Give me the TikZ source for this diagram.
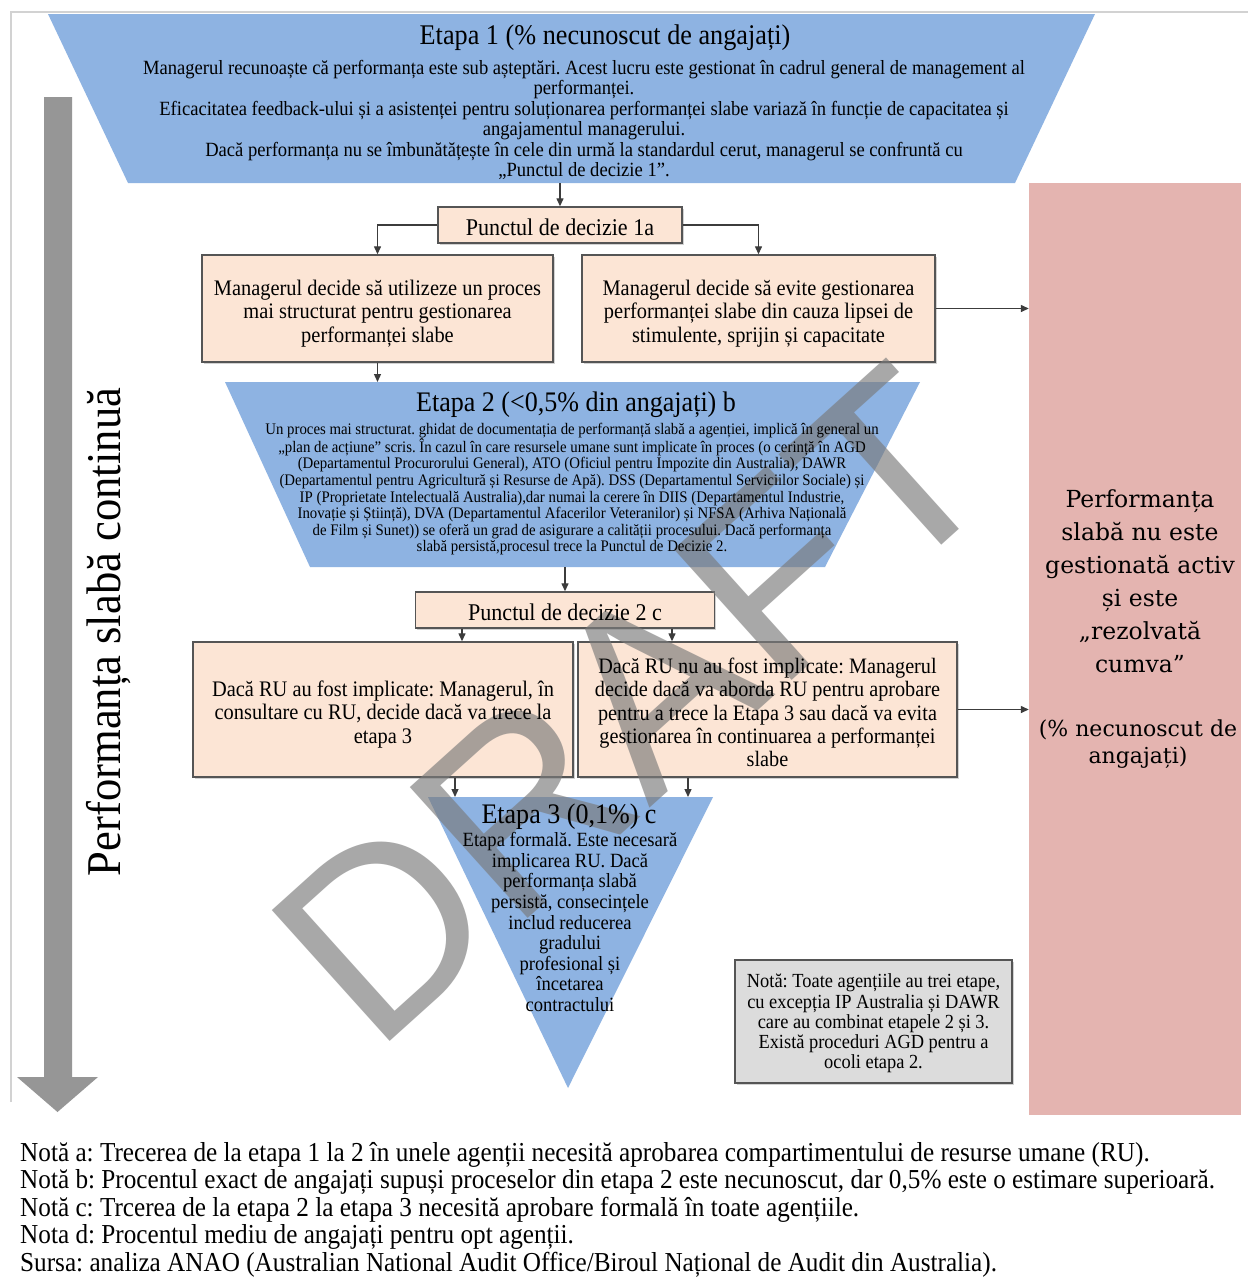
\documentclass[tikz,border=0pt]{standalone}
\usepackage{fontspec}
\setmainfont{Liberation Serif}[FakeStretch=0.92]
\newfontfamily\pinkfont{DejaVu Serif}
\newfontfamily\wmfont{Liberation Sans}
\usetikzlibrary{arrows.meta,shadows}
\definecolor{eblue}{RGB}{142,179,226}
\definecolor{peach}{RGB}{252,229,213}
\definecolor{pinkc}{RGB}{228,180,176}
\definecolor{arrgray}{RGB}{150,150,150}
\definecolor{notegray}{RGB}{220,220,220}
\definecolor{edgec}{RGB}{85,85,85}
\definecolor{connc}{RGB}{60,60,60}
\definecolor{wmc}{RGB}{122,122,122}
\frenchspacing
\begin{document}
\frenchspacing
\begin{tikzpicture}[x=1pt,y=-1pt,
  peachbox/.style={draw=edgec, line width=1.4pt, fill=peach, inner sep=0pt,
     drop shadow={shadow xshift=1.5pt, shadow yshift=-1.5pt, opacity=0.35}},
  boxtext/.style={align=center, inner sep=0pt},
  conn/.style={draw=connc, line width=1.3pt, -{Triangle[length=8pt,width=7pt]}},
  boxfont/.style={font=\fontsize{22.2}{23.5}\selectfont}
]
\useasboundingbox (0,0) rectangle (1248,1285);
\fill[white] (0,0) rectangle (1248,1285);
% frame
\draw[gray!35, line width=1.5pt] (11,1102) -- (11,12) -- (1248,12);

% ---------- shapes ----------
% Etapa 1
\fill[eblue] (48,14) -- (1095,14) -- (1015,183) -- (128,183) -- cycle;
\coordinate (e1bot) at (560,183);
% pink box
\node[fill=pinkc, minimum width=212pt, minimum height=932pt, inner sep=0pt] (pink) at (1135,649) {};
% left arrow
\fill[arrgray] (44,97) -- (72,97) -- (72,1077) -- (98,1077) -- (57.5,1112) -- (17,1077) -- (44,1077) -- cycle;
% boxes
\node[peachbox, minimum width=244pt, minimum height=36pt] (dp1) at (560,225) {};
\node[peachbox, minimum width=351pt, minimum height=107pt] (l1) at (377.5,308.5) {};
\node[peachbox, minimum width=353pt, minimum height=107pt] (r1) at (758.5,308.5) {};
% Etapa 2
\fill[eblue] (225,382) -- (920,382) -- (825,567) -- (310,567) -- cycle;
\coordinate (e2top) at (377.5,382);
\coordinate (e2bot) at (565,567);
\node[peachbox, minimum width=299pt, minimum height=36pt] (dp2) at (565,610) {};
\node[peachbox, minimum width=380pt, minimum height=135pt] (l2) at (383,709.5) {};
\node[peachbox, minimum width=379pt, minimum height=135pt] (r2) at (767.5,709.5) {};
% Etapa 3
\fill[eblue] (428,797) -- (713,797) -- (568,1088) -- cycle;
\coordinate (e3top) at (568,797);
% Note box
\node[draw=edgec, line width=1.4pt, fill=notegray, minimum width=277pt, minimum height=123pt, inner sep=0pt,
      drop shadow={shadow xshift=1.5pt, shadow yshift=-1.5pt, opacity=0.35}] (note) at (873.5,1021.5) {};

% ---------- watermark ----------
\node[rotate=42, font=\wmfont\fontsize{256}{256}\selectfont, text=wmc, text opacity=0.65] (draft) at (633,705) {DRAFT};

% ---------- texts ----------
\node[font=\fontsize{28.5}{30}\selectfont, inner sep=0pt] (e1title) at (605,38) {Etapa 1 (\% necunoscut de angajați)};
\node[font=\fontsize{20.2}{20.4}\selectfont, boxtext] (e1body) at (584,120)
 {Managerul recunoaște că performanța este sub așteptări. Acest lucru este gestionat în cadrul general de management al\\
  performanței.\\
  Eficacitatea feedback-ului și a asistenței pentru soluționarea performanței slabe variază în funcție de capacitatea și\\
  angajamentul managerului.\\
  Dacă performanța nu se îmbunătățește în cele din urmă la standardul cerut, managerul se confruntă cu\\
  „Punctul de decizie 1”.};

\node[font=\pinkfont\fontsize{23.5}{33}\selectfont, boxtext] (pinktext) at (1140,581)
 {Performanța\\ slabă nu este\\ gestionată activ\\ și este\\ „rezolvată\\ cumva”};
\node[font=\pinkfont\fontsize{22}{27}\selectfont, boxtext] (pinkpct) at (1138,744)
 {(\% necunoscut de\\ angajați)};

\node[rotate=90, font=\fontsize{48.5}{50}\selectfont, inner sep=0pt] (leftlabel) at (109,632) {Performanța slabă continuă};

\node[font=\fontsize{24}{25}\selectfont, boxtext] (dp1t) at ([yshift=-2pt]dp1.center) {Punctul de decizie 1a};
\node[boxfont, boxtext] (l1t) at ([yshift=-5pt]l1.center)
 {Managerul decide să utilizeze un proces\\ mai structurat pentru gestionarea\\ performanței slabe};
\node[boxfont, boxtext] (r1t) at ([yshift=-5pt]r1.center)
 {Managerul decide să evite gestionarea\\ performanței slabe din cauza lipsei de\\ stimulente, sprijin și capacitate};

\node[font=\fontsize{28.3}{30}\selectfont, inner sep=0pt] (e2title) at (576,405) {Etapa 2 (<0,5\% din angajați) b};
\node[font=\fontsize{16.1}{16.6}\selectfont, boxtext] (e2body) at (572,489)
 {Un proces mai structurat. ghidat de documentația de performanță slabă a agenției, implică în general un\\
  „plan de acțiune” scris. În cazul în care resursele umane sunt implicate în proces (o cerință în AGD\\
  (Departamentul Procurorului General), ATO (Oficiul pentru Impozite din Australia), DAWR\\
  (Departamentul pentru Agricultură și Resurse de Apă). DSS (Departamentul Serviciilor Sociale) și\\
  IP (Proprietate Intelectuală Australia),dar numai la cerere în DIIS (Departamentul Industrie,\\
  Inovație și Știință), DVA (Departamentul Afacerilor Veteranilor) și NFSA (Arhiva Națională\\
  de Film și Sunet)) se oferă un grad de asigurare a calității procesului. Dacă performanța\\
  slabă persistă,procesul trece la Punctul de Decizie 2.};

\node[font=\fontsize{24}{25}\selectfont, boxtext] (dp2t) at ([yshift=-2pt]dp2.center) {Punctul de decizie 2 c};
\node[boxfont, boxtext] (l2t) at ([yshift=-5pt]l2.center)
 {Dacă RU au fost implicate: Managerul, în\\ consultare cu RU, decide dacă va trece la\\ etapa 3};
\node[font=\fontsize{22}{23.2}\selectfont, boxtext] (r2t) at ([yshift=-3pt]r2.center)
 {Dacă RU nu au fost implicate: Managerul\\ decide dacă va aborda RU pentru aprobare\\ pentru a trece la Etapa 3 sau dacă va evita\\ gestionarea în continuarea a performanței\\ slabe};

\node[font=\fontsize{28.3}{30}\selectfont, inner sep=0pt] (e3title) at (569,817) {Etapa 3 (0,1\%) c};
\node[font=\fontsize{20.2}{20.6}\selectfont, boxtext] (e3body) at (570,922)
 {Etapa formală. Este necesară\\ implicarea RU. Dacă\\ performanța slabă\\ persistă, consecințele\\ includ reducerea\\ gradului\\ profesional și\\ încetarea\\ contractului};

\node[font=\fontsize{20}{20.3}\selectfont, boxtext] (notet) at ([yshift=-2pt]note.center)
 {Notă: Toate agențiile au trei etape,\\ cu excepția IP Australia și DAWR\\ care au combinat etapele 2 și 3.\\ Există proceduri AGD pentru a\\ ocoli etapa 2.};

% ---------- connectors ----------
\draw[conn] (e1bot) -- (dp1.north);
\draw[conn] (dp1.west) -| (l1.north);
\draw[conn] (dp1.east) -| (r1.north);
\draw[conn] (r1.east) -- (r1.east -| pink.west);
\draw[conn] (l1.south) -- (e2top);
\draw[conn] (e2bot) -- (dp2.north);
\draw[conn] ([xshift=-103pt]dp2.south) -- ([xshift=-103pt]dp2.south |- l2.north);
\draw[conn] ([xshift=107pt]dp2.south) -- ([xshift=107pt]dp2.south |- r2.north);
\draw[conn] (r2.east) -- (r2.east -| pink.west);
\draw[conn] ([xshift=72pt]l2.south) -- ([xshift=72pt]l2.south |- e3top);
\draw[conn] ([xshift=-79.5pt]r2.south) -- ([xshift=-79.5pt]r2.south |- e3top);

% bottom notes
\node[anchor=north west, align=left, inner sep=0pt, font=\fontsize{27.4}{27.5}\selectfont] (notes) at (20,1142)
 {Notă a: Trecerea de la etapa 1 la 2 în unele agenții necesită aprobarea compartimentului de resurse umane (RU).\\
  Notă b: Procentul exact de angajați supuși proceselor din etapa 2 este necunoscut, dar 0,5\% este o estimare superioară.\\
  Notă c: Trcerea de la etapa 2 la etapa 3 necesită aprobare formală în toate agențiile.\\
  Nota d: Procentul mediu de angajați pentru opt agenții.\\
  Sursa: analiza ANAO (Australian National Audit Office/Biroul Național de Audit din Australia).};
\end{tikzpicture}
\end{document}
